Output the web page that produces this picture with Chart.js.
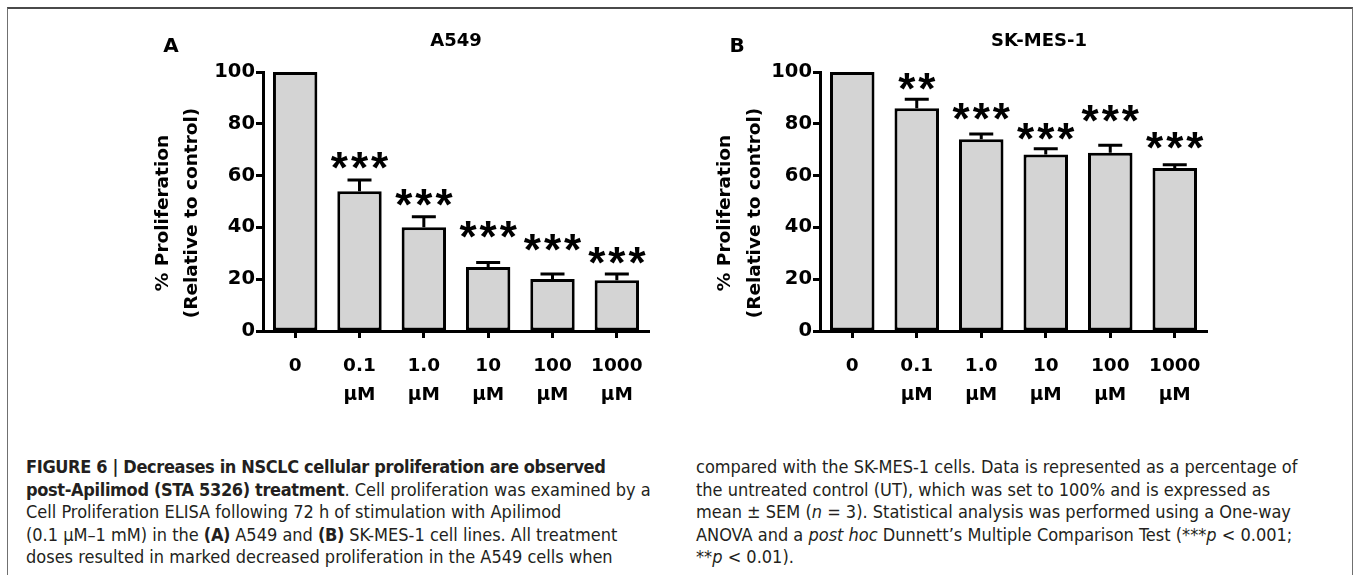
<!DOCTYPE html>
<html>
<head>
<meta charset="utf-8">
<script src="https://cdn.jsdelivr.net/npm/chart.js@4.4.1/dist/chart.umd.min.js"></script>
<style>
html, body { margin: 0; padding: 0; background: #fff; }
body { width: 1354px; height: 575px; position: relative; overflow: hidden; }
.frame { position: absolute; left: 7px; top: 7px; width: 1344px; height: 620px;
  border-top: 2px solid #4a4a4a; border-left: 1px solid #707070; border-right: 1px solid #707070; }
.panel { position: absolute; top: 0; }
.caption { position: absolute; top: 456px; font-family: "DejaVu Sans Condensed", "Liberation Sans Narrow", sans-serif;
  font-size: 18px; line-height: 22.5px; color: #231f20; white-space: nowrap; }
.caption b { letter-spacing: -0.35px; }
</style>
</head>
<body>
<div class="frame"></div>
<canvas id="chartA" class="panel" style="left:130px" width="540" height="420"></canvas>
<canvas id="chartB" class="panel" style="left:687px" width="540" height="420"></canvas>

<div class="caption" style="left:26px">
<b>FIGURE 6 | Decreases in NSCLC cellular proliferation are observed</b><br>
<b>post-Apilimod (STA 5326) treatment</b>. Cell proliferation was examined by a<br>
Cell Proliferation ELISA following 72 h of stimulation with Apilimod<br>
(0.1 μM–1 mM) in the <b>(A)</b> A549 and <b>(B)</b> SK-MES-1 cell lines. All treatment<br>
doses resulted in marked decreased proliferation in the A549 cells when
</div>
<div class="caption" style="left:696px">
compared with the SK-MES-1 cells. Data is represented as a percentage of<br>
the untreated control (UT), which was set to 100% and is expressed as<br>
mean ± SEM (<i>n</i> = 3). Statistical analysis was performed using a One-way<br>
ANOVA and a <i>post hoc</i> Dunnett’s Multiple Comparison Test (***<i>p</i> &lt; 0.001;<br>
**<i>p</i> &lt; 0.01).
</div>

<script>
// 가로축 범주 (Apilimod 농도)
const doses = ['0', ['0.1', 'μM'], ['1.0', 'μM'], ['10', 'μM'], ['100', 'μM'], ['1000', 'μM']];

// A549 결과 (% of control, mean / SEM)
const a549Mean = [100, 54.0, 40.1, 24.7, 20.1, 19.6];
const a549Sem = [0, 4.3, 4.0, 1.7, 1.9, 2.4];
const a549Stars = ['', '***', '***', '***', '***', '***'];
const a549StarY = [null, 66.0, 51.5, 39.0, 34.1, 29.3];

// SK-MES-1 결과
const skmesMean = [100, 86.0, 74.0, 68.1, 68.8, 62.9];
const skmesSem = [0, 3.5, 2.1, 2.3, 2.9, 1.3];
const skmesStars = ['', '**', '***', '***', '***', '***'];
const skmesStarY = [null, 96.3, 84.7, 77.0, 83.8, 73.5];

const yTicks = [0, 20, 40, 60, 80, 100];
const yTitle = ['% Proliferation', '(Relative to control)'];

const boldFont = (size, lh) => ({ family: 'DejaVu Sans', weight: 'bold', size: size, lineHeight: lh || 1.2 });

// 에러바(위쪽만), 별표, 패널 제목, 세로축 제목
const extrasPlugin = {
    id: 'extras',
    afterDatasetsDraw(chart, args, opts) {
        const ctx = chart.ctx;
        const y = chart.scales.y;
        const meta = chart.getDatasetMeta(0);
        ctx.save();
        ctx.strokeStyle = '#000';
        ctx.fillStyle = '#000';
        ctx.lineWidth = 3;
        meta.data.forEach((bar, i) => {
            const sem = opts.sem[i];
            if (!sem) return;
            const top = y.getPixelForValue(opts.mean[i]);
            const errY = y.getPixelForValue(opts.mean[i] + sem);
            ctx.beginPath();
            ctx.moveTo(bar.x, top);
            ctx.lineTo(bar.x, errY);
            ctx.moveTo(bar.x - 12, errY);
            ctx.lineTo(bar.x + 12, errY);
            ctx.stroke();
        });
        // 유의성 별표
        ctx.font = 'bold 44px "Liberation Sans"';
        ctx.letterSpacing = '3px';
        ctx.textAlign = 'center';
        ctx.textBaseline = 'alphabetic';
        meta.data.forEach((bar, i) => {
            const s = opts.stars[i];
            if (!s) return;
            const m = ctx.measureText(s);
            const yc = y.getPixelForValue(opts.starY[i]);
            const base = yc + (m.actualBoundingBoxAscent - m.actualBoundingBoxDescent) / 2;
            ctx.fillText(s, bar.x + 1.5, base);
        });
        ctx.letterSpacing = '0px';
        // 패널 라벨 + 세포주 이름
        ctx.font = 'bold 20px "DejaVu Sans"';
        ctx.fillText(opts.label, opts.labelX, 52);
        ctx.font = 'bold 18px "DejaVu Sans"';
        ctx.fillText(opts.title, opts.titleX, 46);
        // 세로축 제목 (두 줄, 회전)
        ctx.font = 'bold 18.5px "DejaVu Sans"';
        ctx.textBaseline = 'middle';
        yTitle.forEach((t, k) => {
            ctx.save();
            ctx.translate(opts.yTitleX[k], 213);
            ctx.rotate(-Math.PI / 2);
            ctx.fillText(t, 0, 0);
            ctx.restore();
        });
        ctx.restore();
    }
};

function makeChart(id, mean, sem, stars, starY, label, labelX, title, titleX, yTitleX, padRight) {
    const ctx = document.getElementById(id).getContext('2d');
    return new Chart(ctx, {
        type: 'bar',
        data: {
            labels: doses,
            datasets: [{
                data: mean,
                backgroundColor: '#d4d4d4',
                borderColor: '#000',
                borderWidth: 3,
                borderSkipped: false,
                barPercentage: 0.69,
                categoryPercentage: 1,
                clip: false
            }]
        },
        options: {
            responsive: false,
            animation: false,
            devicePixelRatio: 1,
            layout: { padding: { top: 72, right: padRight, bottom: 0, left: 0 } },
            plugins: {
                legend: { display: false },
                tooltip: { enabled: false },
                extras: { mean, sem, stars, starY, label, labelX, title, titleX, yTitleX }
            },
            scales: {
                x: {
                    ticks: { color: '#000', font: boldFont(18.5, 1.55), padding: 14, maxRotation: 0, autoSkip: false },
                    grid: { offset: false, drawOnChartArea: false, tickLength: 7, tickWidth: 3, tickColor: '#000' },
                    border: { color: '#000', width: 3 },
                    afterFit(s) { s.height = 89; }
                },
                y: {
                    min: 0,
                    max: 100,
                    afterBuildTicks(s) { s.ticks = yTicks.map(v => ({ value: v })); },
                    ticks: { color: '#000', font: boldFont(19.5), padding: 1 },
                    grid: { drawOnChartArea: false, tickLength: 7, tickWidth: 3, tickColor: '#000' },
                    border: { color: '#000', width: 3 },
                    afterFit(s) { s.width = 133; }
                }
            }
        },
        plugins: [extrasPlugin]
    });
}

makeChart('chartA', a549Mean, a549Sem, a549Stars, a549StarY, 'A', 41, 'A549', 326, [33, 62], 21);
makeChart('chartB', skmesMean, skmesSem, skmesStars, skmesStarY, 'B', 50, 'SK-MES-1', 352, [38, 68], 20);
</script>
</body>
</html>
